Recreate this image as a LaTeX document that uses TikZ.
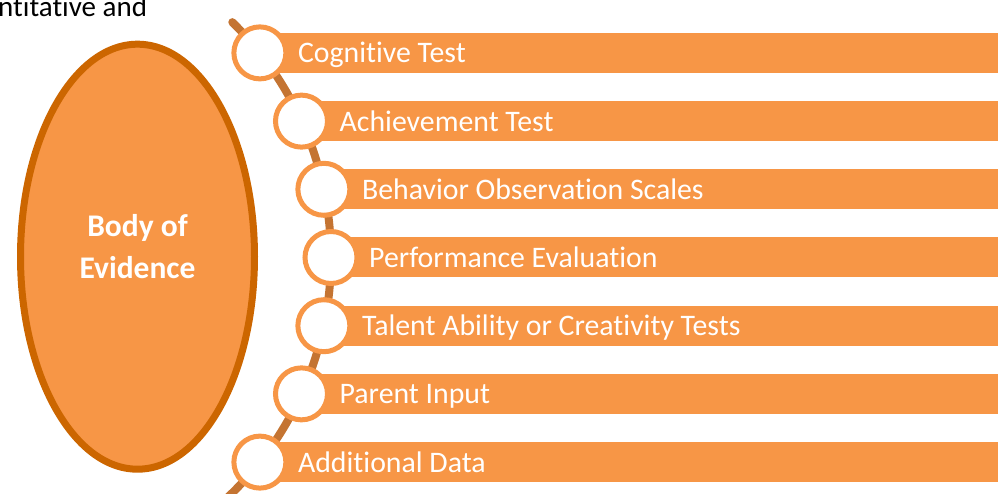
\documentclass[tikz,border=0pt]{standalone}
\usepackage{fontspec}
\setmainfont{Carlito}[RawFeature=-liga]
\usetikzlibrary{shapes.geometric,calc}
\definecolor{barorange}{HTML}{F79646}
\definecolor{rimorange}{HTML}{CC6600}
\definecolor{stemorange}{HTML}{C47432}
\begin{document}
\begin{tikzpicture}[x=1pt,y=1pt,font=\fontsize{29.8}{35}\selectfont,
  ring/.style={circle,draw=barorange,line width=5pt,fill=white,minimum size=52pt,inner sep=0pt},
  itemtext/.style={anchor=base west,text=white,inner sep=0pt}]
  \useasboundingbox (0,0) rectangle (999,493);
  \node[anchor=base west,inner sep=0pt,font=\fontsize{29}{35}\selectfont] (cut) at (-2,476.3) {ntitative and};
  \node[ellipse,draw=rimorange,line width=7pt,fill=barorange,minimum width=234pt,minimum height=425pt] (body) at (137.5,236.3) {};
  \node[text=white,align=center,font=\fontsize{31.5}{41.5}\selectfont\bfseries] (bodytext) at ([yshift=10pt]body.center) {Body of\\Evidence};
  \coordinate (o) at (1,235.5);
  \coordinate (edge) at (998,0);
  \foreach \a/\n in {38.32/1, 24.41/2, 11.93/3, 0/4, -11.93/5, -24.41/6, -38.32/7} {
    \coordinate (p\n) at ($(o)+(\a:330)$);
    \fill[barorange] ($(p\n)+(0,-20)$) rectangle ($(p\n -| edge)+(0,20)$);
  }
  \draw[stemorange,line width=8pt,line cap=round] ($(o)+(45.5:330)$) arc[start angle=45.5,end angle=-47,radius=330];
  \foreach \n/\t in {1/Cognitive Test, 2/Achievement Test, 3/Behavior Observation Scales, 4/Performance Evaluation, 5/Talent Ability or Creativity Tests, 6/Parent Input, 7/Additional Data} {
    \node[ring] (c\n) at (p\n) {};
    \node[itemtext] (t\n) at ($(p\n)+(38,-10)$) {\t};
  }
\end{tikzpicture}
\end{document}
